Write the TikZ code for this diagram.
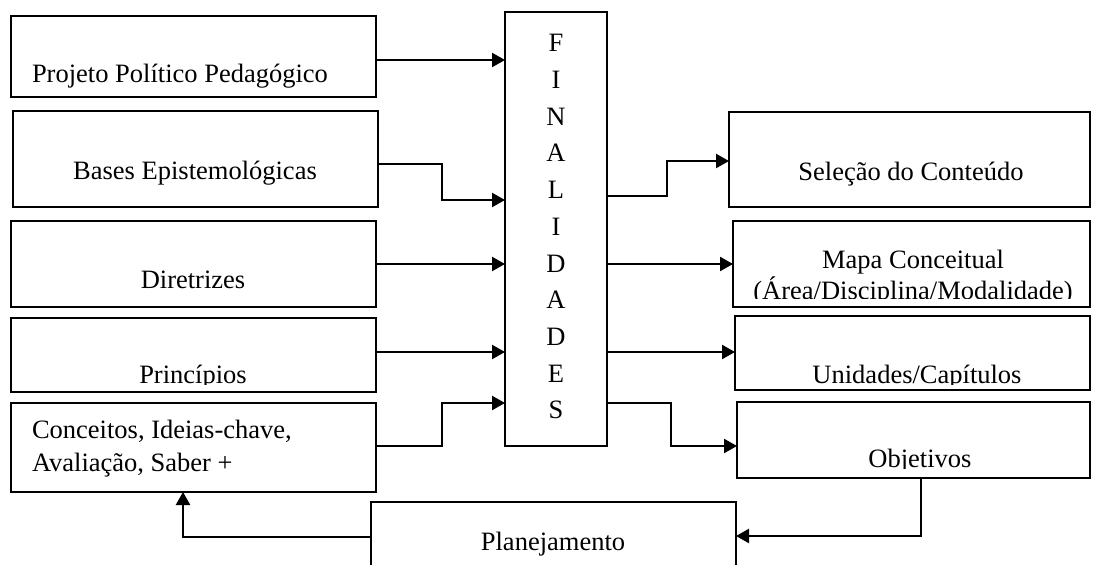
\documentclass[tikz,border=0pt]{standalone}
\usepackage{fontspec}
\setmainfont{Liberation Serif}
\usetikzlibrary{arrows.meta}
\begin{document}
\begin{tikzpicture}[x=1pt,y=-1pt,
  boxn/.style={draw,line width=1.8pt,inner sep=0pt,outer sep=0pt,anchor=north west},
  txt/.style={inner sep=0pt,outer sep=0pt,font=\fontsize{26.5}{33}\selectfont},
  arr/.style={line width=2.3pt,-{Triangle[length=13pt,width=14pt]}}]
\fill[white] (0,0) rectangle (1093,565);
\useasboundingbox (0,0) rectangle (1093,565);
\clip (0,0) rectangle (1093,565);

% left boxes
\node[boxn,minimum width=365pt,minimum height=81pt] (pp) at (11,16) {};
\node[boxn,minimum width=365pt,minimum height=96pt] (be) at (13,111) {};
\node[boxn,minimum width=365pt,minimum height=86pt] (di) at (11,221) {};
\node[boxn,minimum width=365pt,minimum height=74pt] (pr) at (11,318) {};
\node[boxn,minimum width=365pt,minimum height=89pt] (co) at (11,403) {};
% centre
\node[boxn,minimum width=102pt,minimum height=434pt] (fin) at (505,12) {};
% right boxes
\node[boxn,minimum width=361pt,minimum height=95pt] (se) at (729,112) {};
\node[boxn,minimum width=357pt,minimum height=86pt] (ma) at (733,221) {};
\node[boxn,minimum width=355pt,minimum height=74pt] (un) at (735,316) {};
\node[boxn,minimum width=353pt,minimum height=76pt] (ob) at (737,402) {};
% bottom
\node[boxn,minimum width=365pt,minimum height=90pt] (pl) at (371,502) {};

% texts
\node[txt,anchor=base west] (tpp) at (32,82) {Projeto Político Pedagógico};
\node[txt,anchor=base] (tbe) at (195,179) {Bases Epistemológicas};
\node[txt,anchor=base] (tdi) at (193,288) {Diretrizes};
\begin{scope}
  \clip (11,318) rectangle (376,384);
  \node[txt,anchor=base] (tpr) at (193,383) {Princípios};
\end{scope}
\node[txt,anchor=north west,align=left] (tco) at (32,420) {Conceitos, Ideias-chave,\\Avaliação, Saber +};
\node[txt,anchor=north,align=center,font=\fontsize{26.5}{36.7}\selectfont] (tfin) at (556,34.5)
  {F\\I\\N\\A\\L\\I\\D\\A\\D\\E\\S};
\node[txt,anchor=base] (tse) at (911,180) {Seleção do Conteúdo};
\begin{scope}
  \clip (733,221) rectangle (1090,298);
  \node[txt,anchor=north,align=center,font=\fontsize{26.5}{31}\selectfont] (tma) at (913,250)
    {Mapa Conceitual\\(Área/Disciplina/Modalidade)};
\end{scope}
\begin{scope}
  \clip (735,316) rectangle (1090,384);
  \node[txt,anchor=base] (tun) at (917,383) {Unidades/Capítulos};
\end{scope}
\begin{scope}
  \clip (737,402) rectangle (1090,468);
  \node[txt,anchor=base] (tob) at (920,467) {Objetivos};
\end{scope}
\node[txt,anchor=base] (tpl) at (553,550) {Planejamento};

% connectors into FINALIDADES
\draw[arr] (pp.east |- 0,60) -- (fin.west |- 0,60);
\draw[arr] (be.east |- 0,164) -- (442,164) -- (442,200) -- (fin.west |- 0,200);
\draw[arr] (di.east |- 0,264) -- (fin.west |- 0,264);
\draw[arr] (pr.east |- 0,352) -- (fin.west |- 0,352);
\draw[arr] (co.east |- 0,446) -- (442,446) -- (442,403) -- (fin.west |- 0,403);
% connectors out of FINALIDADES
\draw[arr] (fin.east |- 0,196) -- (667,196) -- (667,161) -- (se.west |- 0,161);
\draw[arr] (fin.east |- 0,264) -- (ma.west |- 0,264);
\draw[arr] (fin.east |- 0,352) -- (un.west |- 0,352);
\draw[arr] (fin.east |- 0,403) -- (671,403) -- (671,446) -- (ob.west |- 0,446);
% loop back
\draw[arr] (ob.south -| 921,0) -- (921,536) -- (pl.east |- 0,536);
\draw[arr] (pl.west |- 0,537) -- (183,537) -- (co.south -| 183,0);
\end{tikzpicture}
\end{document}
